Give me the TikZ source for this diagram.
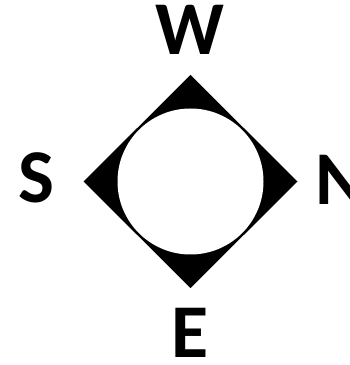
\documentclass[tikz,border=0pt]{standalone}
\usepackage{fontspec}
\setmainfont{Carlito}
\begin{document}
\begin{tikzpicture}[x=1pt,y=1pt,
  lbl/.style={inner sep=0pt,font=\bfseries\fontsize{76}{76}\selectfont}]
\useasboundingbox (0,0) rectangle (350,365);
\fill[white] (0,0) rectangle (350,365);
\coordinate (c) at (190.5,183.5);
\fill[black] (190.5,290) -- (297.5,183.5) -- (190.5,77) -- (83.5,183.5) -- cycle;
\fill[white] (c) circle (73);
\node[lbl,anchor=base] (w) at (190,310) {W};
\node[lbl,anchor=base] (s) at (36,162) {S};
\node[lbl,anchor=base] (e) at (190,7) {E};
\node[lbl,anchor=base west] (n) at (315,160) {N};
\end{tikzpicture}
\end{document}
